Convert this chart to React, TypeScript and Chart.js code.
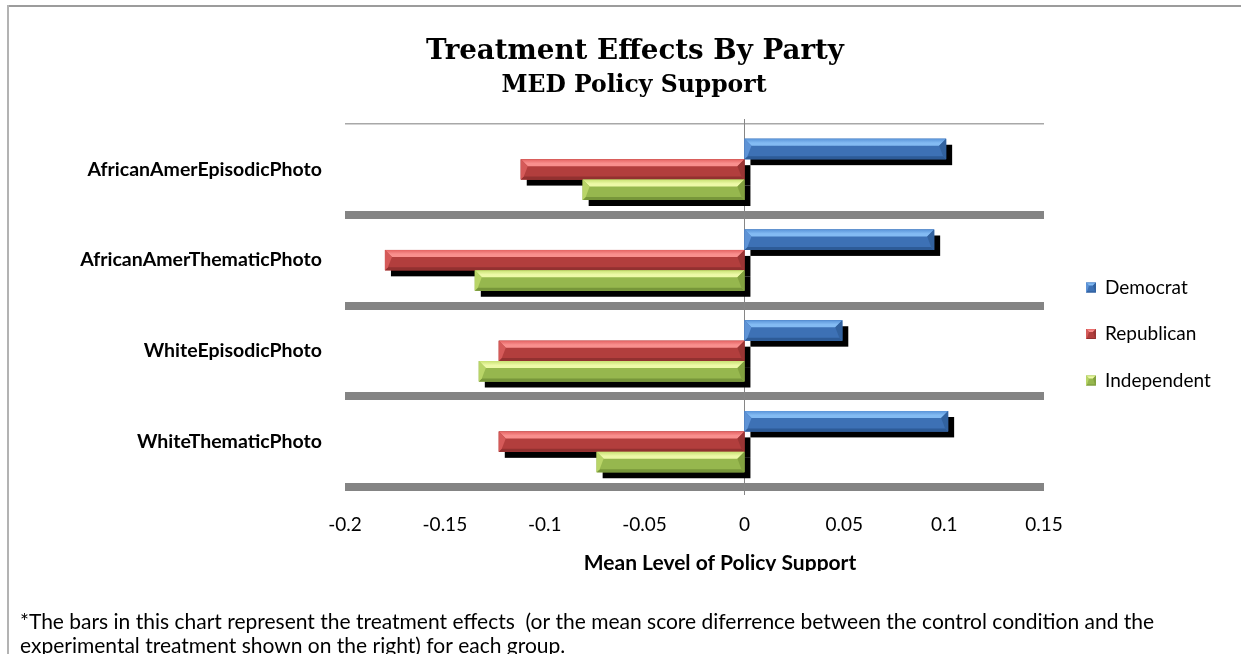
import { useEffect, useRef } from 'react';
import { Chart, registerables } from 'chart.js';

Chart.register(...registerables);

const categories = [
  'AfricanAmerEpisodicPhoto',
  'AfricanAmerThematicPhoto',
  'WhiteEpisodicPhoto',
  'WhiteThematicPhoto',
];
const seriesNames = ['Democrat', 'Republican', 'Independent'];
const democrat = [0.101, 0.095, 0.049, 0.102];
const republican = [-0.112, -0.180, -0.123, -0.123];
const independent = [-0.081, -0.135, -0.133, -0.074];
const xTickLabels = ['-0.2', '-0.15', '-0.1', '-0.05', '0', '0.05', '0.1', '0.15'];

const chartTitle = 'Treatment Effects By Party';
const chartSubtitle = 'MED Policy Support';
const axisTitle = 'Mean Level of Policy Support';
const footnoteLines = [
  '*The bars in this chart represent the treatment effects  (or the mean score diferrence between the control condition and the',
  'experimental treatment shown on the right) for each group.',
];

const W = 1241;
const H = 654;
const SANS = 'Lato, "Open Sans", sans-serif';
const SERIF = '"DejaVu Serif", "Liberation Serif", serif';

type Palette = { body: string; top0: string; top1: string; bottom: string; left: string; right: string };

const palettes: Palette[] = [
  { body: '#3d71b5', top0: '#5a94d9', top1: '#83bbf3', bottom: '#2d5b97', left: '#5e93d6', right: '#32629f' },
  { body: '#b23e3d', top0: '#e46261', top1: '#f98f8d', bottom: '#923130', left: '#d55a59', right: '#9a3534' },
  { body: '#96b74e', top0: '#c9e274', top1: '#edf9a7', bottom: '#77963a', left: '#b9d568', right: '#82a13f' },
];

function drawBevel(ctx: CanvasRenderingContext2D, x0: number, y0: number, x1: number, y1: number, pal: Palette, t: number, b: number) {
  const w = x1 - x0;
  const tt = Math.min(t, w / 2);
  const bb = Math.min(b, w / 2);
  ctx.fillStyle = pal.body;
  ctx.fillRect(x0, y0, w, y1 - y0);
  const g = ctx.createLinearGradient(0, y0, 0, y0 + tt);
  g.addColorStop(0, pal.top0);
  g.addColorStop(0.6, pal.top1);
  g.addColorStop(1, pal.top1);
  ctx.fillStyle = g;
  ctx.beginPath();
  ctx.moveTo(x0, y0);
  ctx.lineTo(x1, y0);
  ctx.lineTo(x1 - tt, y0 + tt);
  ctx.lineTo(x0 + tt, y0 + tt);
  ctx.closePath();
  ctx.fill();
  ctx.fillStyle = pal.bottom;
  ctx.beginPath();
  ctx.moveTo(x0, y1);
  ctx.lineTo(x1, y1);
  ctx.lineTo(x1 - bb, y1 - bb);
  ctx.lineTo(x0 + bb, y1 - bb);
  ctx.closePath();
  ctx.fill();
  ctx.fillStyle = pal.left;
  ctx.beginPath();
  ctx.moveTo(x0, y0);
  ctx.lineTo(x0 + tt, y0 + tt);
  ctx.lineTo(x0 + bb, y1 - bb);
  ctx.lineTo(x0, y1);
  ctx.closePath();
  ctx.fill();
  ctx.fillStyle = pal.right;
  ctx.beginPath();
  ctx.moveTo(x1, y0);
  ctx.lineTo(x1 - tt, y0 + tt);
  ctx.lineTo(x1 - bb, y1 - bb);
  ctx.lineTo(x1, y1);
  ctx.closePath();
  ctx.fill();
}

function barRects(chart: any) {
  const out: { i: number; x0: number; x1: number; y0: number; y1: number }[] = [];
  chart.data.datasets.forEach((_: any, i: number) => {
    const meta = chart.getDatasetMeta(i);
    meta.data.forEach((el: any) => {
      const p = el.getProps(['x', 'y', 'base', 'height'], true);
      out.push({
        i,
        x0: Math.min(p.x, p.base),
        x1: Math.max(p.x, p.base),
        y0: p.y - p.height / 2,
        y1: p.y + p.height / 2,
      });
    });
  });
  return out;
}

const decorPlugin = {
  id: 'decor',
  beforeDraw(chart: any) {
    const ctx = chart.ctx as CanvasRenderingContext2D;
    ctx.save();
    ctx.fillStyle = '#ffffff';
    ctx.fillRect(0, 0, W, H);
    // outer frame (top and left edges)
    ctx.fillStyle = '#9c9c9c';
    ctx.fillRect(7, 5, W - 7, 2);
    ctx.fillStyle = '#b3b3b3';
    ctx.fillRect(7, 5, 2, H - 5);
    ctx.restore();
  },
  beforeDatasetsDraw(chart: any) {
    const ctx = chart.ctx as CanvasRenderingContext2D;
    const area = chart.chartArea;
    const zx = Math.round(chart.scales.x.getPixelForValue(0)) + 0.5;
    ctx.save();
    ctx.strokeStyle = '#868686';
    ctx.lineWidth = 1;
    ctx.beginPath();
    ctx.moveTo(zx, area.top - 5);
    ctx.lineTo(zx, area.bottom + 8);
    ctx.stroke();
    // drop shadows
    ctx.fillStyle = '#000000';
    barRects(chart).forEach((r) => {
      ctx.fillRect(r.x0 + 6, r.y0 + 6, r.x1 - r.x0, r.y1 - r.y0);
    });
    ctx.restore();
  },
  afterDatasetsDraw(chart: any) {
    const ctx = chart.ctx as CanvasRenderingContext2D;
    ctx.save();
    barRects(chart).forEach((r) => {
      drawBevel(ctx, r.x0, r.y0, r.x1, r.y1, palettes[r.i], 7, 3);
    });
    ctx.restore();
  },
  afterDraw(chart: any) {
    const ctx = chart.ctx as CanvasRenderingContext2D;
    ctx.save();
    ctx.fillStyle = '#000000';
    ctx.textAlign = 'center';
    ctx.textBaseline = 'alphabetic';
    ctx.font = `bold 27.7px ${SERIF}`;
    ctx.fillText(chartTitle, 635, 59);
    ctx.font = `bold 23.5px ${SERIF}`;
    ctx.fillText(chartSubtitle, 634, 92);

    // axis title, cut by the bottom of the plot frame
    ctx.save();
    ctx.beginPath();
    ctx.rect(0, 0, W, 571);
    ctx.clip();
    ctx.font = `bold 21px ${SANS}`;
    ctx.fillText(axisTitle, 720, 570);
    ctx.restore();

    // legend
    const legendY = [287.5, 334, 380.5];
    ctx.textAlign = 'left';
    ctx.textBaseline = 'middle';
    ctx.font = `19px ${SANS}`;
    seriesNames.forEach((name, i) => {
      const y = legendY[i];
      drawBevel(ctx, 1086, y - 5, 1096, y + 5, palettes[i], 3, 1);
      ctx.fillStyle = '#000000';
      ctx.fillText(name, 1105, y);
    });

    // footnote
    ctx.textBaseline = 'alphabetic';
    ctx.font = `21px ${SANS}`;
    ctx.fillText(footnoteLines[0], 20, 629);
    ctx.fillText(footnoteLines[1], 20, 653);
    ctx.restore();
  },
};

export default function App() {
  const canvasRef = useRef<HTMLCanvasElement | null>(null);

  useEffect(() => {
    const canvas = canvasRef.current;
    if (!canvas) return;
    const chart = new Chart(canvas, {
      type: 'bar',
      data: {
        labels: categories,
        datasets: [
          { label: seriesNames[0], data: democrat, backgroundColor: palettes[0].body, borderWidth: 0 },
          { label: seriesNames[1], data: republican, backgroundColor: palettes[1].body, borderWidth: 0 },
          { label: seriesNames[2], data: independent, backgroundColor: palettes[2].body, borderWidth: 0 },
        ],
      },
      options: {
        indexAxis: 'y',
        responsive: false,
        animation: false,
        devicePixelRatio: 1,
        layout: { padding: { left: 0, right: 197, top: 124, bottom: 0 } },
        datasets: { bar: { categoryPercentage: 0.675, barPercentage: 1 } },
        plugins: {
          legend: { display: false },
          title: { display: false },
          tooltip: { enabled: false },
        },
        scales: {
          x: {
            min: -0.2,
            max: 0.15,
            ticks: {
              stepSize: 0.05,
              padding: 18,
              color: '#000000',
              font: { family: SANS, size: 19 },
              maxRotation: 0,
              autoSkip: false,
              callback: (_v: any, i: number) => xTickLabels[i],
            },
            grid: { display: false },
            border: { display: false },
            afterFit: (s: any) => {
              s.height = H - 487;
            },
          },
          y: {
            ticks: {
              padding: 23,
              color: '#000000',
              font: { family: SANS, size: 19.5, weight: 'bold' },
            },
            grid: {
              offset: true,
              drawTicks: false,
              color: (c: any) => (c.index === 0 ? '#a8a8a8' : '#848484'),
              lineWidth: (c: any) => (c.index === 0 ? 1.5 : 8),
            },
            border: { display: false },
            afterFit: (s: any) => {
              s.width = 345;
            },
          },
        },
      } as any,
      plugins: [decorPlugin],
    });
    return () => chart.destroy();
  }, []);

  return (
    <div style={{ position: 'absolute', left: 0, top: 0, width: W, height: H, background: '#ffffff' }}>
      <canvas ref={canvasRef} width={W} height={H} style={{ display: 'block' }} />
    </div>
  );
}
